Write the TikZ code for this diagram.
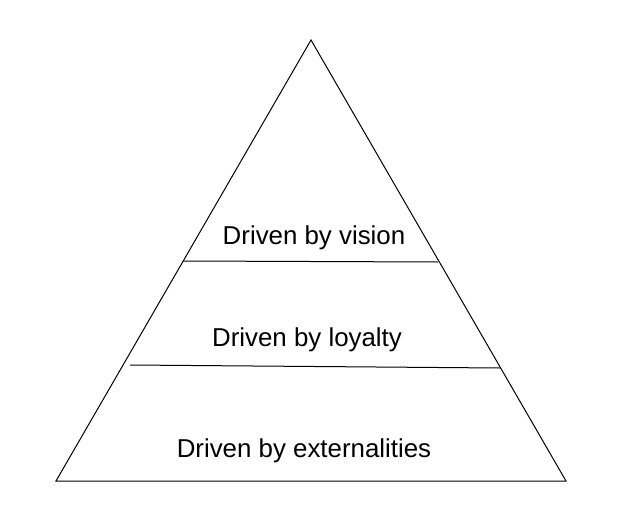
\documentclass[tikz,border=0pt]{standalone}
\usepackage{fontspec}
\setmainfont{Liberation Sans}
\usepackage{xcolor}
\usetikzlibrary{positioning, calc}

\begin{document}
\begin{tikzpicture}[
    x=0.75pt, y=-0.75pt,
    edge/.style={draw=black, line width=0.75pt, line join=miter},
    levellabel/.style={anchor=base, inner sep=0pt,
                       font=\fontsize{19.4}{23}\selectfont}
]
    \useasboundingbox (0,0) rectangle (620,524);

    % corners of the pyramid
    \coordinate (apex) at (311,40);
    \coordinate (baseleft) at (56,481);
    \coordinate (baseright) at (566,481);

    % ends of the two dividers
    \coordinate (topleft) at (183,261);
    \coordinate (topright) at (438,262);
    \coordinate (midleft) at (130,365);
    \coordinate (midright) at (500,368);

    \draw[edge] (apex) -- (baseright) -- (baseleft) -- cycle;
    \draw[edge] (topleft) -- (topright);
    \draw[edge] (midleft) -- (midright);

    % level texts
    \node[levellabel] (vision) at (314,244) {Driven by vision};
    \node[levellabel] (loyalty) at (307,346) {Driven by loyalty};
    \node[levellabel] (extern) at (304,457) {Driven by externalities};
\end{tikzpicture}
\end{document}
